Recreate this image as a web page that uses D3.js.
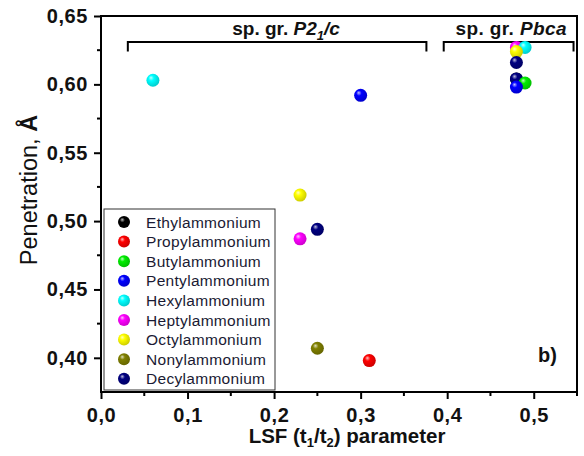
<!DOCTYPE html>
<html><head><meta charset="utf-8">
<script src="https://cdn.jsdelivr.net/npm/d3@7"></script>
<style>body{margin:0;background:#fff;}svg{display:block;}</style>
</head><body>
<script>
const names = ["Ethylammonium","Propylammonium","Butylammonium","Pentylammonium","Hexylammonium","Heptylammonium","Octylammonium","Nonylammonium","Decylammonium"];
const colors = ["#000000","#ff0000","#00ee00","#0000ff","#00ffff","#ff00ff","#ffff00","#808000","#000080"];
// points: [seriesIndex, LSF, penetration]
const seriesIdx = [4,3,6,5,8,7,1, 5,4,6,0,8,8,2,3];
const lsfValues = [0.06,0.30,0.23,0.23,0.25,0.25,0.31, 0.48,0.49,0.48,0.48,0.48,0.48,0.49,0.48];
const penValues = [0.603,0.592,0.519,0.487,0.494,0.407,0.398, 0.627,0.627,0.624,0.604,0.616,0.604,0.601,0.598];
const xTicks = [0,0.1,0.2,0.3,0.4,0.5];
const yTicks = [0.40,0.45,0.50,0.55,0.60,0.65];

const W=584,H=456;
const svg=d3.select("body").append("svg").attr("width",W).attr("height",H);
const x=d3.scaleLinear().domain([0,0.55]).range([101,577]);
const y=d3.scaleLinear().domain([0.375,0.65]).range([392,16]);

const defs=svg.append("defs");
colors.forEach((c,i)=>{
  const g=defs.append("radialGradient").attr("id","g"+i).attr("cx","0.4").attr("cy","0.4").attr("r","0.6").attr("fx","0.35").attr("fy","0.3");
  g.append("stop").attr("offset","0%").attr("stop-color",d3.interpolateRgb(c,"#fff")(0.75));
  g.append("stop").attr("offset","35%").attr("stop-color",c);
  g.append("stop").attr("offset","100%").attr("stop-color",d3.color(c).darker(0.6));
});

const font="'Liberation Sans', Arial, sans-serif";
// axes
const xAxis=d3.axisBottom(x).tickValues(xTicks).tickSize(7).tickFormat(d=>d3.format(".1f")(d).replace(".",","));
const gx=svg.append("g").attr("transform","translate(0,392)").call(xAxis);
const yAxis=d3.axisLeft(y).tickValues(yTicks).tickSize(7).tickFormat(d=>d3.format(".2f")(d).replace(".",","));
const gy=svg.append("g").attr("transform","translate(101,0)").call(yAxis);
[gx,gy].forEach(g=>{
  g.select(".domain").remove();
  g.selectAll("line").attr("stroke","#000").attr("stroke-width",2);
  g.selectAll("text").attr("font-family",font).attr("font-weight","bold").attr("font-size",20)
    .attr("letter-spacing","0.6px").attr("fill","#111");
});
gx.selectAll("text").attr("dy","1.0em");
gy.selectAll("text").attr("dx","-0.15em");
// minor ticks
const xMinor=[0.05,0.15,0.25,0.35,0.45,0.55];
svg.append("g").selectAll("line").data(xMinor).join("line")
  .attr("x1",d=>x(d)).attr("x2",d=>x(d)).attr("y1",392).attr("y2",396).attr("stroke","#000").attr("stroke-width",2);
const yMinor=[0.425,0.475,0.525,0.575,0.625];
svg.append("g").selectAll("line").data(yMinor).join("line")
  .attr("y1",d=>y(d)).attr("y2",d=>y(d)).attr("x1",101).attr("x2",97).attr("stroke","#000").attr("stroke-width",2);
// frame
svg.append("rect").attr("x",101).attr("y",16).attr("width",476).attr("height",376)
  .attr("fill","none").attr("stroke","#000").attr("stroke-width",2);

// brackets
function bracket(x0,x1){
  const yt=y(0.631), yb=y(0.624);
  svg.append("path").attr("d",`M${x(x0)},${yb}V${yt}H${x(x1)}V${yb}`)
    .attr("fill","none").attr("stroke","#000").attr("stroke-width",2);
}
bracket(0.031,0.376);
bracket(0.396,0.546);
const t1=svg.append("text").attr("x",286).attr("y",35).attr("text-anchor","middle")
  .attr("font-family",font).attr("font-weight","bold").attr("font-size",19).attr("fill","#111");
t1.append("tspan").text("sp. gr. ");
t1.append("tspan").attr("font-style","italic").text("P2");
t1.append("tspan").attr("font-style","italic").attr("font-size",13).attr("dy",5).text("1");
t1.append("tspan").attr("font-style","italic").attr("dy",-5).text("/c");
const t2=svg.append("text").attr("x",567).attr("y",35).attr("text-anchor","end")
  .attr("font-family",font).attr("font-weight","bold").attr("font-size",19).attr("letter-spacing","0.4px").attr("fill","#111");
t2.append("tspan").text("sp. gr. ");
t2.append("tspan").attr("font-style","italic").text("Pbca");

// legend
const lg=svg.append("g");
lg.append("rect").attr("x",104).attr("y",209).attr("width",171).attr("height",181)
  .attr("fill","#fff").attr("stroke","#333").attr("stroke-width",1);
names.forEach((n,i)=>{
  const yy=222+i*19.6;
  lg.append("circle").attr("cx",124).attr("cy",yy).attr("r",6).attr("fill",`url(#g${i})`);
  lg.append("text").attr("x",146).attr("y",yy+5.5).attr("font-family",font).attr("font-size",15.5)
    .attr("letter-spacing","0.3px").attr("fill","#1a1a33").text(n);
});

// points
const pts=seriesIdx.map((s,i)=>({s,x:lsfValues[i],y:penValues[i]}));
svg.append("g").selectAll("circle").data(pts).join("circle")
  .attr("cx",d=>x(d.x)).attr("cy",d=>y(d.y)).attr("r",6.5).attr("fill",d=>`url(#g${d.s})`);

// b)
svg.append("text").attr("x",557).attr("y",362).attr("text-anchor","end").attr("font-family",font)
  .attr("font-weight","bold").attr("font-size",20).attr("fill","#111").text("b)");

// axis labels
const xl=svg.append("text").attr("x",347).attr("y",443).attr("text-anchor","middle")
  .attr("font-family",font).attr("font-weight","bold").attr("font-size",20.5).attr("fill","#111");
xl.append("tspan").text("LSF (t");
xl.append("tspan").attr("font-size",13).attr("dy",4).text("1");
xl.append("tspan").attr("dy",-4).text("/t");
xl.append("tspan").attr("font-size",13).attr("dy",4).text("2");
xl.append("tspan").attr("dy",-4).text(") parameter");
const yl=svg.append("text").attr("transform","translate(37,190) rotate(-90)").attr("text-anchor","middle")
  .attr("font-family",font).attr("font-size",23.5).attr("fill","#111");
yl.append("tspan").text("Penetration, ");
yl.append("tspan").attr("font-weight","bold").text("Å");
</script>
</body></html>
